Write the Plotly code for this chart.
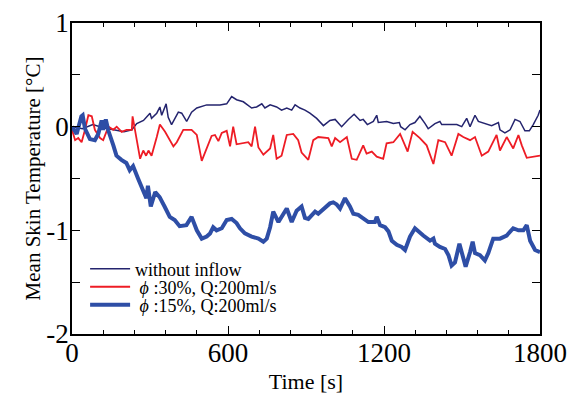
import plotly.graph_objects as go

# --- data ---
t_without = [0,40,80,120,160,200,230,249,275,300,306,326,338,345,362,370,383,409,422,441,460,480,518,569,595,614,633,659,691,710,730,742,762,787,806,826,845,858,877,896,915,941,967,992,1012,1037,1063,1085,1108,1120,1136,1159,1172,1178,1210,1236,1259,1264,1281,1300,1319,1338,1358,1370,1396,1415,1422,1441,1480,1499,1518,1531,1550,1563,1588,1614,1640,1646,1665,1685,1704,1723,1742,1759,1774,1793,1800]
v_without = [0,-0.02,0.02,-0.01,-0.03,-0.05,-0.03,0.03,0.06,0.13,0.08,0.13,0.19,0.11,0.22,0.09,0.02,0.14,0.13,0.05,0.14,0.18,0.21,0.21,0.22,0.29,0.26,0.24,0.18,0.19,0.22,0.18,0.21,0.19,0.16,0.18,0.16,0.21,0.18,0.16,0.13,0.08,0.01,0.06,0.07,0.0,0.07,0.12,0.06,0.07,0.02,0.05,0.11,0.04,0.05,0.03,0.04,0.0,-0.03,0.02,0.04,0.1,0.03,-0.02,0.03,0.05,0.02,0.02,0.02,0.0,0.08,0.0,0.11,0.05,0.03,0.01,0.04,-0.03,-0.06,-0.03,0.07,0.05,-0.04,-0.04,0.02,0.11,0.16]

t_phi30 = [0,12,24,37,50,63,76,88,108,120,140,159,172,191,210,230,233,242,262,274,285,294,306,326,338,358,377,390,403,428,460,480,499,518,537,550,563,576,595,608,620,633,659,678,691,704,717,736,762,774,787,806,826,851,870,883,909,928,947,986,999,1012,1031,1057,1076,1095,1120,1133,1153,1172,1197,1210,1236,1262,1291,1310,1338,1364,1390,1409,1435,1460,1486,1505,1531,1550,1576,1601,1633,1646,1672,1697,1717,1730,1749,1800]
v_phi30 = [-0.03,-0.13,-0.11,-0.15,-0.03,0.11,0.10,-0.03,-0.11,-0.13,0.0,-0.03,0.0,-0.05,-0.03,-0.03,0.10,-0.03,-0.31,-0.23,-0.28,-0.23,-0.28,-0.10,0.02,-0.05,-0.13,-0.19,-0.15,-0.03,-0.03,-0.08,-0.33,-0.20,-0.09,-0.08,-0.14,-0.06,-0.04,-0.19,0.0,-0.17,-0.16,-0.15,-0.19,0.0,-0.20,-0.27,-0.21,-0.08,-0.31,-0.28,-0.08,-0.07,-0.13,-0.25,-0.32,-0.13,-0.10,-0.11,-0.19,-0.11,-0.15,-0.10,-0.31,-0.32,-0.18,-0.26,-0.24,-0.29,-0.31,-0.16,-0.15,-0.07,-0.24,-0.05,-0.11,-0.18,-0.36,-0.13,-0.15,-0.28,-0.07,-0.10,-0.13,-0.10,-0.28,-0.24,-0.08,-0.23,-0.10,-0.21,-0.08,-0.18,-0.30,-0.28]

t_phi15 = [0,18,36,41,50,69,88,101,114,120,130,140,159,171,190,209,222,235,254,273,286,292,303,320,337,356,376,395,414,440,460,480,499,518,531,543,556,576,595,614,633,646,665,691,717,736,749,762,774,794,826,845,864,883,896,909,922,935,947,967,980,992,1005,1018,1031,1050,1069,1082,1101,1120,1140,1165,1172,1185,1204,1217,1230,1249,1268,1281,1300,1319,1332,1351,1377,1390,1396,1415,1435,1448,1460,1473,1490,1505,1514,1531,1541,1550,1569,1588,1601,1620,1646,1672,1697,1717,1736,1749,1762,1781,1800]
v_phi15 = [0,-0.07,0.10,0.11,-0.02,-0.12,-0.13,-0.07,0.06,-0.03,0.07,-0.04,-0.18,-0.28,-0.32,-0.35,-0.42,-0.38,-0.50,-0.61,-0.69,-0.57,-0.77,-0.63,-0.68,-0.77,-0.87,-0.90,-0.96,-0.95,-0.87,-1.0,-1.08,-1.06,-1.03,-0.97,-1.0,-0.98,-0.9,-0.89,-0.93,-0.98,-1.03,-1.06,-1.08,-1.11,-1.08,-0.97,-0.82,-0.92,-0.79,-0.92,-0.81,-0.77,-0.88,-0.89,-0.85,-0.82,-0.84,-0.79,-0.76,-0.74,-0.73,-0.75,-0.79,-0.69,-0.77,-0.84,-0.85,-0.89,-0.92,-0.92,-0.87,-0.95,-0.97,-1.01,-1.1,-1.14,-1.16,-1.19,-1.06,-0.98,-1.01,-1.05,-1.1,-1.08,-1.13,-1.16,-1.18,-1.24,-1.34,-1.31,-1.13,-1.27,-1.35,-1.21,-1.11,-1.22,-1.24,-1.29,-1.22,-1.08,-1.08,-1.05,-0.98,-1.0,-1.0,-0.95,-1.1,-1.19,-1.21]

names = ["without inflow", " <i>ϕ</i> :30%, Q:200ml/s", " <i>ϕ</i> :15%, Q:200ml/s"]
x_ticks = [0, 600, 1200, 1800]
y_ticks = [-2, -1, 0, 1]

FONT = "Liberation Serif, Times New Roman, serif"

fig = go.Figure()
fig.add_trace(go.Scatter(x=t_without, y=v_without, mode="lines", name=names[0],
                         line=dict(color="#24246e", width=1.5), legend="legend"))
fig.add_trace(go.Scatter(x=t_phi30, y=v_phi30, mode="lines", name=names[1],
                         line=dict(color="#ee1c25", width=1.8), legend="legend2"))
fig.add_trace(go.Scatter(x=t_phi15, y=v_phi15, mode="lines", name=names[2],
                         line=dict(color="#2e4ea6", width=4), legend="legend3"))

axis_common = dict(showline=True, linecolor="black", linewidth=1.5, mirror="ticks",
                   ticks="inside", ticklen=8, tickwidth=1.2, tickcolor="black",
                   showgrid=False, zeroline=False, automargin=False,
                   tickfont=dict(family=FONT, size=27, color="black"))

fig.update_xaxes(range=[0, 1800], tickvals=x_ticks, ticktext=[str(v) for v in x_ticks],
                 ticklabelstandoff=-6,
                 minor=dict(dtick=120, ticklen=4, tickwidth=1, tickcolor="black", ticks="inside"),
                 title=dict(text="Time [s]", font=dict(family=FONT, size=22, color="black"), standoff=6),
                 **axis_common)
fig.update_yaxes(range=[-2, 1], tickvals=y_ticks, ticktext=[str(v) for v in y_ticks],
                 ticklabelstandoff=-4,
                 minor=dict(dtick=0.5, ticklen=8, tickwidth=1, tickcolor="black", ticks="inside"),
                 title=dict(text="Mean Skin Temperature [°C]", font=dict(family=FONT, size=21, color="black"), standoff=0),
                 **axis_common)

leg_common = dict(x=0.028, xanchor="left", yanchor="middle", bgcolor="rgba(0,0,0,0)",
                  font=dict(family=FONT, size=18, color="black"), itemwidth=40)

fig.update_layout(
    width=567, height=386,
    margin=dict(l=64, r=35, t=15, b=60),
    plot_bgcolor="white", paper_bgcolor="white",
    font=dict(family=FONT, color="black"),
    legend=dict(y=0.209, **leg_common),
    legend2=dict(y=0.151, **leg_common),
    legend3=dict(y=0.093, **leg_common),
    showlegend=True,
)

fig.write_html("out.html")
